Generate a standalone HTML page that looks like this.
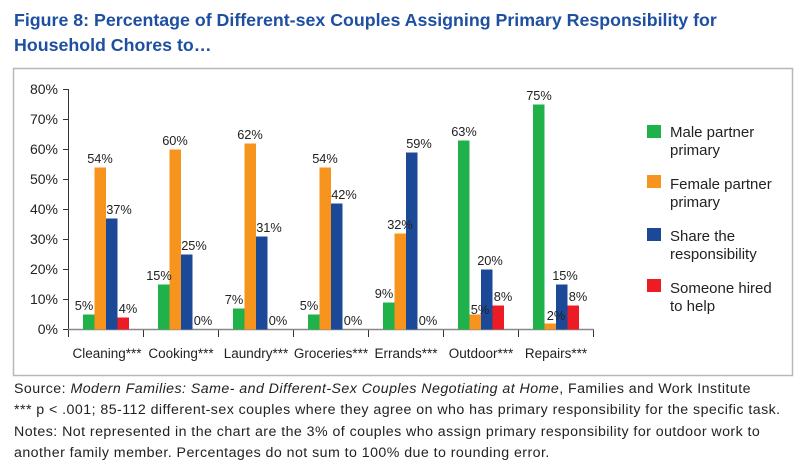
<!DOCTYPE html>
<html><head><style>
body{margin:0;background:#fff;width:805px;height:469px;overflow:hidden;font-family:"Liberation Sans",sans-serif}
.t{position:absolute;left:14px;top:8px;font-weight:bold;font-size:17.8px;line-height:25px;color:#1e4fa0}
.f{position:absolute;left:14px;top:379px;font-size:14.2px;letter-spacing:0.45px;line-height:21.3px;color:#222;white-space:nowrap}
</style></head><body>
<div class="t">Figure 8: Percentage of Different-sex Couples Assigning Primary Responsibility for<br>Household Chores to…</div>
<svg width="805" height="469" style="position:absolute;left:0;top:0">
<rect x="13.5" y="68.5" width="779" height="307" fill="none" stroke="#b8b8b8" stroke-width="1.5"/>
<g font-family="Liberation Sans,sans-serif" font-size="14" fill="#222" text-anchor="end">
<text x="58" y="334">0%</text><text x="58" y="304">10%</text><text x="58" y="274">20%</text><text x="58" y="244">30%</text><text x="58" y="214">40%</text><text x="58" y="184">50%</text><text x="58" y="154">60%</text><text x="58" y="124">70%</text><text x="58" y="94">80%</text>
</g>
<g stroke="#333" stroke-width="1">
<line x1="68.5" y1="89" x2="68.5" y2="337"/>
<line x1="63" y1="89.5" x2="68" y2="89.5"/><line x1="63" y1="119.5" x2="68" y2="119.5"/><line x1="63" y1="149.5" x2="68" y2="149.5"/><line x1="63" y1="179.5" x2="68" y2="179.5"/><line x1="63" y1="209.5" x2="68" y2="209.5"/><line x1="63" y1="239.5" x2="68" y2="239.5"/><line x1="63" y1="269.5" x2="68" y2="269.5"/><line x1="63" y1="299.5" x2="68" y2="299.5"/><line x1="63" y1="329.5" x2="68" y2="329.5"/>
<line x1="143.5" y1="330" x2="143.5" y2="337"/><line x1="218.5" y1="330" x2="218.5" y2="337"/><line x1="293.5" y1="330" x2="293.5" y2="337"/><line x1="368.5" y1="330" x2="368.5" y2="337"/><line x1="443.5" y1="330" x2="443.5" y2="337"/><line x1="518.5" y1="330" x2="518.5" y2="337"/><line x1="593.5" y1="330" x2="593.5" y2="337"/>
</g>
<line x1="68" y1="329.5" x2="594" y2="329.5" stroke="#888" stroke-width="1.5"/>
<g>
<rect x="83" y="314.5" width="11.5" height="15" fill="#21b14b"/><rect x="94.5" y="167.5" width="11.5" height="162" fill="#f7941d"/><rect x="106" y="218.5" width="11.5" height="111" fill="#1c4898"/><rect x="117.5" y="317.5" width="11.5" height="12" fill="#ed1c24"/>
<rect x="158" y="284.5" width="11.5" height="45" fill="#21b14b"/><rect x="169.5" y="149.5" width="11.5" height="180" fill="#f7941d"/><rect x="181" y="254.5" width="11.5" height="75" fill="#1c4898"/>
<rect x="233" y="308.5" width="11.5" height="21" fill="#21b14b"/><rect x="244.5" y="143.5" width="11.5" height="186" fill="#f7941d"/><rect x="256" y="236.5" width="11.5" height="93" fill="#1c4898"/>
<rect x="308" y="314.5" width="11.5" height="15" fill="#21b14b"/><rect x="319.5" y="167.5" width="11.5" height="162" fill="#f7941d"/><rect x="331" y="203.5" width="11.5" height="126" fill="#1c4898"/>
<rect x="383" y="302.5" width="11.5" height="27" fill="#21b14b"/><rect x="394.5" y="233.5" width="11.5" height="96" fill="#f7941d"/><rect x="406" y="152.5" width="11.5" height="177" fill="#1c4898"/>
<rect x="458" y="140.5" width="11.5" height="189" fill="#21b14b"/><rect x="469.5" y="314.5" width="11.5" height="15" fill="#f7941d"/><rect x="481" y="269.5" width="11.5" height="60" fill="#1c4898"/><rect x="492.5" y="305.5" width="11.5" height="24" fill="#ed1c24"/>
<rect x="533" y="104.5" width="11.5" height="225" fill="#21b14b"/><rect x="544.5" y="323.5" width="11.5" height="6" fill="#f7941d"/><rect x="556" y="284.5" width="11.5" height="45" fill="#1c4898"/><rect x="567.5" y="305.5" width="11.5" height="24" fill="#ed1c24"/>
</g>
<g font-family="Liberation Sans,sans-serif" font-size="12.8" fill="#222" text-anchor="middle">
<text x="84" y="310">5%</text><text x="100" y="163">54%</text><text x="119" y="214">37%</text><text x="128" y="313">4%</text>
<text x="159" y="280">15%</text><text x="175" y="145">60%</text><text x="194" y="250">25%</text><text x="203" y="325">0%</text>
<text x="234" y="304">7%</text><text x="250" y="139">62%</text><text x="269" y="232">31%</text><text x="278" y="325">0%</text>
<text x="309" y="310">5%</text><text x="325" y="163">54%</text><text x="344" y="199">42%</text><text x="353" y="325">0%</text>
<text x="384" y="298">9%</text><text x="400" y="229">32%</text><text x="419" y="148">59%</text><text x="428" y="325">0%</text>
<text x="464" y="136">63%</text><text x="480" y="314">5%</text><text x="490" y="265">20%</text><text x="503" y="301">8%</text>
<text x="539" y="100">75%</text><text x="556" y="320">2%</text><text x="565" y="280">15%</text><text x="578" y="301">8%</text>
</g>
<g font-family="Liberation Sans,sans-serif" font-size="13.5" fill="#222" text-anchor="middle">
<text x="107" y="358">Cleaning***</text><text x="181" y="358">Cooking***</text><text x="256" y="358">Laundry***</text><text x="331" y="358">Groceries***</text><text x="406" y="358">Errands***</text><text x="481" y="358">Outdoor***</text><text x="556" y="358">Repairs***</text>
</g>
<rect x="647" y="125" width="14" height="13" fill="#21b14b"/>
<rect x="647" y="175" width="14" height="13" fill="#f7941d"/>
<rect x="647" y="228" width="14" height="13" fill="#1c4898"/>
<rect x="647" y="279" width="14" height="13" fill="#ed1c24"/>
<g font-family="Liberation Sans,sans-serif" font-size="15" fill="#222">
<text x="670" y="137">Male partner</text><text x="670" y="155">primary</text>
<text x="670" y="189">Female partner</text><text x="670" y="207">primary</text>
<text x="670" y="241">Share the</text><text x="670" y="259">responsibility</text>
<text x="670" y="293">Someone hired</text><text x="670" y="311">to help</text>
</g>
</svg>
<div class="f">Source: <i>Modern Families: Same- and Different-Sex Couples Negotiating at Home</i>, Families and Work Institute<br>*** p &lt; .001; 85-112 different-sex couples where they agree on who has primary responsibility for the specific task.<br>Notes: Not represented in the chart are the 3% of couples who assign primary responsibility for outdoor work to<br>another family member. Percentages do not sum to 100% due to rounding error.</div>
</body></html>
